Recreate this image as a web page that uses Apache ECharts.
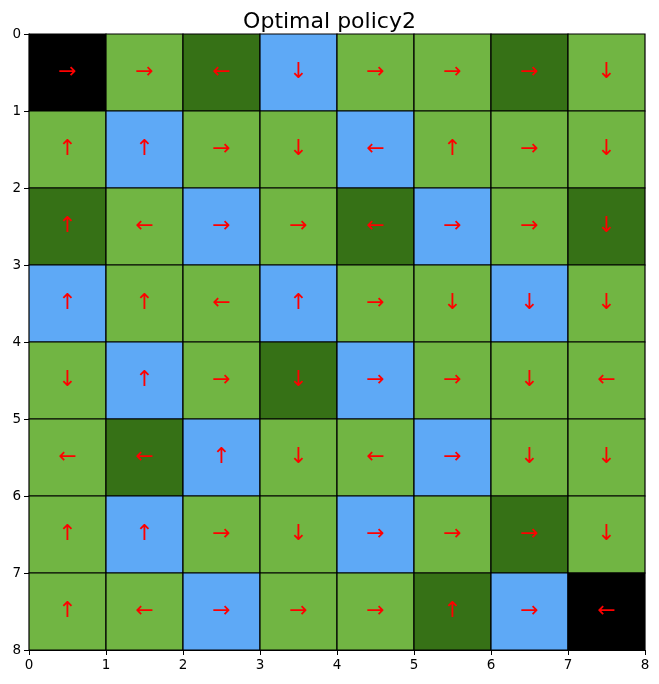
<!DOCTYPE html>
<html>
<head>
<meta charset="utf-8">
<script src="https://cdn.jsdelivr.net/npm/echarts@6/dist/echarts.min.js"></script>
<style>html,body{margin:0;padding:0;background:#fff}#c{width:659px;height:684px}</style>
</head>
<body>
<div id="c"></div>
<script>
// Cell types per row (top to bottom): B=black, L=light green, D=dark green, W=blue
const cellTypes = [
  "BLDWLLDL",
  "LWLLWLLL",
  "DLWLDWLD",
  "WLLWLLWL",
  "LWLDWLLL",
  "LDWLLWLL",
  "LWLLWLDL",
  "LLWLLDWB"
];
// Optimal actions per row
const actions = [
  "→→←↓→→→↓",
  "↑↑→↓←↑→↓",
  "↑←→→←→→↓",
  "↑↑←↑→↓↓↓",
  "↓↑→↓→→↓←",
  "←←↑↓←→↓↓",
  "↑↑→↓→→→↓",
  "↑←→→→↑→←"
];
const tickLabels = ["0","1","2","3","4","5","6","7","8"];
const titleText = "Optimal policy2";

const palette = { B: "#000000", L: "#71b543", D: "#367116", W: "#5ea9f6" };

const cells = [];
for (let r = 0; r < cellTypes.length; r++) {
  for (let c = 0; c < cellTypes[r].length; c++) {
    cells.push([c, r, cellTypes[r][c], Array.from(actions[r])[c]]);
  }
}

const chart = echarts.init(document.getElementById('c'), null, { renderer: 'canvas' });
const font = "'DejaVu Sans', sans-serif";
const axisCommon = {
  type: 'value', min: 0, max: 8, interval: 1,
  axisLine: { show: true, onZero: false, lineStyle: { color: '#000', width: 1 } },
  axisTick: { show: true, length: 5, lineStyle: { color: '#000', width: 1 } },
  axisLabel: { color: '#000', fontSize: 13.5, fontFamily: font, margin: 8,
    formatter: v => tickLabels[v] },
  splitLine: { show: false }
};
chart.setOption({
  animation: false,
  title: { text: titleText, left: 'center', top: 6,
    textStyle: { fontFamily: font, fontSize: 22, fontWeight: 'normal', color: '#000' } },
  grid: { left: 29, right: 14, top: 34, bottom: 34, show: false },
  xAxis: Object.assign({}, axisCommon, { position: 'bottom' }),
  yAxis: Object.assign({}, axisCommon, { inverse: true }),
  series: [{
    type: 'custom',
    data: cells,
    encode: { x: 0, y: 1 },
    renderItem: function (params, api) {
      const x = api.value(0), y = api.value(1);
      const p0 = api.coord([x, y]);
      const p1 = api.coord([x + 1, y + 1]);
      const t = cells[params.dataIndex][2];
      const a = cells[params.dataIndex][3];
      const cx = (p0[0] + p1[0]) / 2, cy = (p0[1] + p1[1]) / 2;
      return {
        type: 'group',
        children: [
          { type: 'rect', shape: { x: p0[0], y: p0[1], width: p1[0] - p0[0], height: p1[1] - p0[1] },
            style: { fill: palette[t], stroke: '#000', lineWidth: 1.2 } },
          { type: 'text', style: { text: a, x: cx, y: cy, align: 'center', verticalAlign: 'middle',
            textAlign: 'center', textVerticalAlign: 'middle',
            fill: '#ff0000', fontSize: 22, fontFamily: font } }
        ]
      };
    }
  }]
});
</script>
</body>
</html>
